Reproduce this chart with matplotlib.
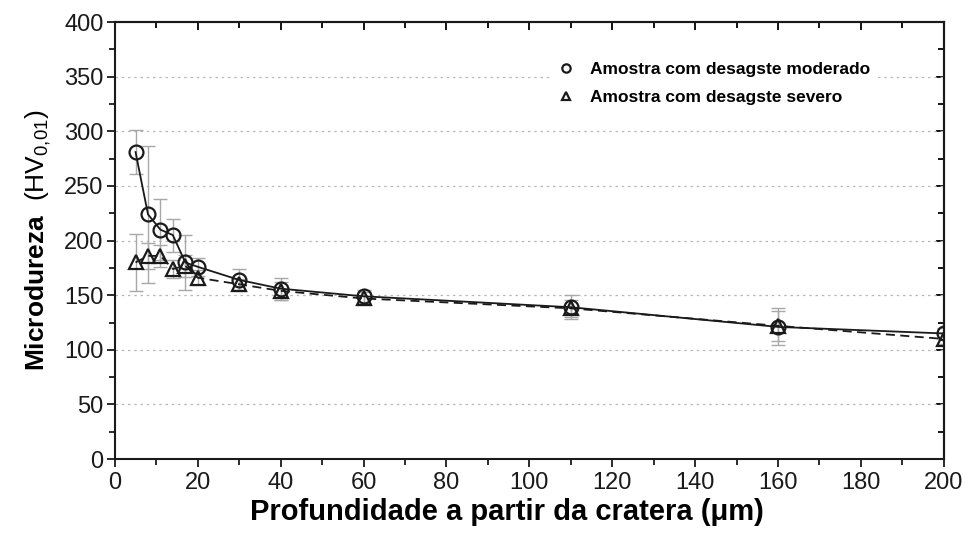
import matplotlib
matplotlib.use("Agg")
import matplotlib.pyplot as plt
from matplotlib.ticker import MultipleLocator

plt.rcParams['font.family'] = ['Liberation Sans', 'DejaVu Sans']
plt.rcParams['mathtext.fontset'] = 'custom'
plt.rcParams['mathtext.rm'] = 'Liberation Sans'
plt.rcParams['mathtext.bf'] = 'Liberation Sans:bold'

# profundidade (um)
depth = [5, 8, 11, 14, 17, 20, 30, 40, 60, 110, 160, 200]

# desgaste moderado
hv_mod = [281, 224, 210, 205, 180, 176, 164, 156, 149, 139, 121, 115]
err_mod = [20, 63, 28, 15, 25, 8, 10, 10, 6, 11, 17, 5]

# desgaste severo
hv_sev = [180, 186, 186, 174, 177, 166, 160, 154, 147, 138, 122, 110]
err_sev = [26, 12, 10, 8, 10, 7, 5, 8, 6, 8, 14, 5]

fig = plt.figure(figsize=(9.65, 5.37), dpi=100)
ax = fig.add_axes([0.119, 0.145, 0.859, 0.814])

ax.errorbar(depth, hv_mod, yerr=err_mod, fmt='none', ecolor='#a8a8a8',
            elinewidth=1.0, capsize=5, capthick=1.0, zorder=2)
ax.errorbar(depth, hv_sev, yerr=err_sev, fmt='none', ecolor='#a8a8a8',
            elinewidth=1.0, capsize=5, capthick=1.0, zorder=2)

ax.plot(depth, hv_mod, '-', color='#1a1a1a', lw=1.3, zorder=3)
ax.plot(depth, hv_sev, '--', color='#1a1a1a', lw=1.3, dashes=(5, 3), zorder=3)
ax.plot(depth, hv_mod, 'o', ms=10, mfc='none', mec='#1a1a1a', mew=1.6, zorder=4,
        label='Amostra com desagste moderado')
ax.plot(depth, hv_sev, '^', ms=10, mfc='none', mec='#1a1a1a', mew=1.6, zorder=4,
        label='Amostra com desagste severo')

ax.set_xlim(0, 200)
ax.set_ylim(0, 400)
ax.xaxis.set_major_locator(MultipleLocator(20))
ax.xaxis.set_minor_locator(MultipleLocator(10))
ax.yaxis.set_major_locator(MultipleLocator(50))
ax.yaxis.set_minor_locator(MultipleLocator(25))

for y in range(50, 400, 50):
    ax.axhline(y, color='#b8b8b8', lw=0.9, ls=(0, (2, 3)), zorder=1)

ax.tick_params(which='both', labelsize=17, width=1.3, colors='#1a1a1a',
               direction='out')
ax.tick_params(axis='y', pad=2)
ax.tick_params(which='major', length=6)
ax.tick_params(which='minor', length=4)

# ticks on the top and right edges point inward
ax_top = ax.secondary_xaxis('top')
ax_top.xaxis.set_major_locator(MultipleLocator(20))
ax_top.xaxis.set_minor_locator(MultipleLocator(10))
ax_top.tick_params(which='both', direction='in', labeltop=False, width=1.3)
ax_top.tick_params(which='major', length=6)
ax_top.tick_params(which='minor', length=4)
ax_right = ax.secondary_yaxis('right')
ax_right.yaxis.set_major_locator(MultipleLocator(50))
ax_right.yaxis.set_minor_locator(MultipleLocator(25))
ax_right.tick_params(which='both', direction='in', labelright=False, width=1.3)
ax_right.tick_params(which='major', length=6)
ax_right.tick_params(which='minor', length=4)

for a in (ax, ax_top, ax_right):
    for s in a.spines.values():
        s.set_linewidth(1.5)
        s.set_color('#1a1a1a')

ax.set_xlabel('Profundidade a partir da cratera (\u03bcm)', fontsize=21,
              fontweight='bold', labelpad=5)
ax.xaxis.set_label_coords(0.473, -0.09)
ax.set_ylabel(r'$\mathbf{Microdureza}$  (HV$_{0{,}01}$)', fontsize=19, labelpad=8)

leg = ax.legend(loc='upper left', bbox_to_anchor=(0.515, 0.945), frameon=True,
                facecolor='white', edgecolor='none', framealpha=1,
                markerscale=0.6, handlelength=1.0, handletextpad=0.9,
                labelspacing=0.75, prop={'size': 12.5, 'weight': 'bold'})

fig.savefig('out.png', dpi=100)
